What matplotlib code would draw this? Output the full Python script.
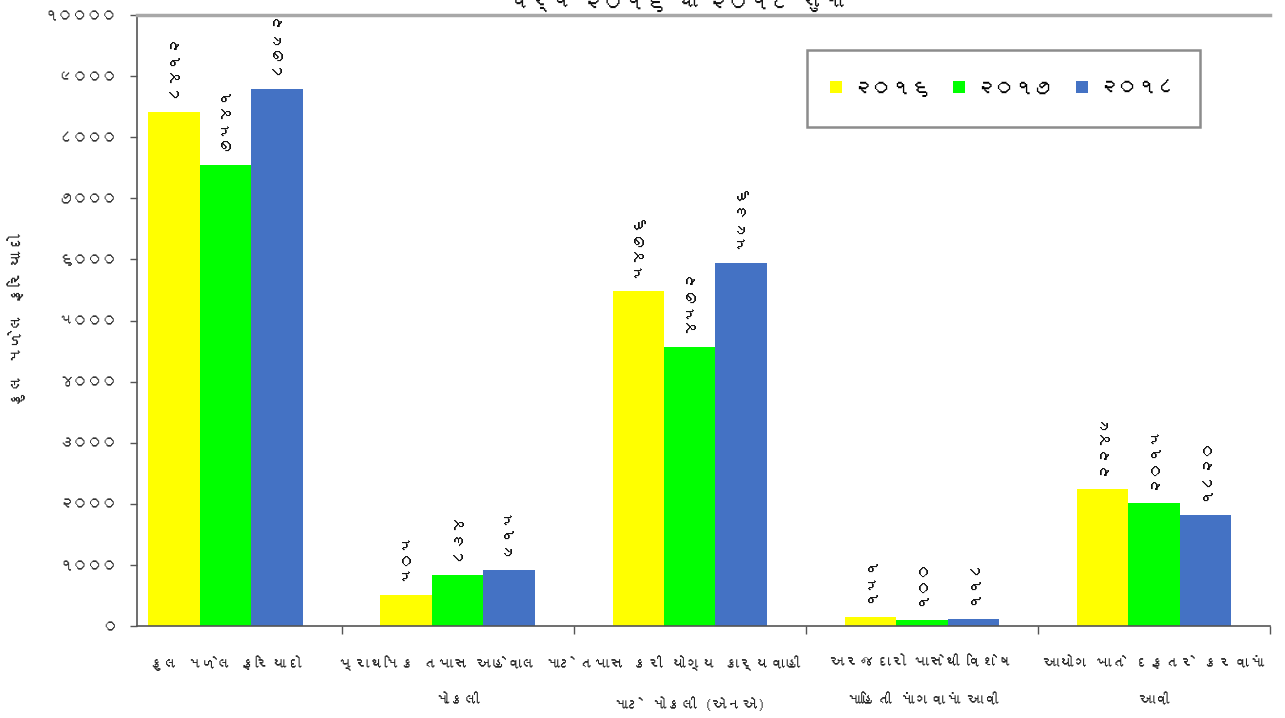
import matplotlib
matplotlib.use("Agg")
import matplotlib.pyplot as plt
from matplotlib import font_manager
from matplotlib.patches import Patch, Rectangle
import numpy as np

# ---- data ---------------------------------------------------------------
categories = [
    "કુલ મળેલ ફરિયાદો",
    "પ્રાથમિક તપાસ અહેવાલ માટે\nમોકલી",
    "તપાસ કરી યોગ્ય કાર્યવાહી\nમાટે મોકલી (એનએ)",
    "અરજદારો પાસેથી વિશેષ\nમાહિતી માંગવામાં આવી",
    "આયોગ ખાતે દફતરે કરવામાં\nઆવી",
]
years = ["૨૦૧૬", "૨૦૧૭", "૨૦૧૮"]
values_2016 = [8412, 505, 5476, 151, 2249]
values_2017 = [7541, 834, 4572, 100, 2015]
values_2018 = [8792, 915, 5936, 118, 1820]
y_ticks = [0, 1000, 2000, 3000, 4000, 5000, 6000, 7000, 8000, 9000, 10000]

title = "વર્ષ ૨૦૧૬ થી ૨૦૧૮ સુધી"
y_label = "કુલ મળેલ ફરિયાદો"

colors = ["#FFFF00", "#00FF00", "#4472C4"]

GUJ_DIGITS = str.maketrans("0123456789", "૦૧૨૩૪૫૬૭૮૯")


def guj(n):
    return str(n).translate(GUJ_DIGITS)


def gujarati_families():
    """Find installed families that can draw Gujarati script."""
    found = []
    try:
        from fontTools.ttLib import TTFont
    except ImportError:
        TTFont = None
    for fe in font_manager.fontManager.ttflist:
        name = fe.name
        if name in found:
            continue
        low = name.lower()
        if "gujarati" in low or "lohit" in low or "shruti" in low:
            found.append(name)
            continue
        if TTFont is None:
            continue
        try:
            f = TTFont(fe.fname, fontNumber=0, lazy=True)
            cmap = f.getBestCmap()
            if cmap and 0x0A95 in cmap:
                found.append(name)
        except Exception:
            pass
    return found


families = gujarati_families() + ["DejaVu Sans"]
plt.rcParams["font.family"] = families

# ---- figure -------------------------------------------------------------
W, H = 1285, 718
fig = plt.figure(figsize=(W / 100, H / 100), dpi=100)
ax_left, ax_right, ax_top, ax_bottom = 137, 1270, 15, 626
ax = fig.add_axes([ax_left / W, 1 - ax_bottom / H,
                   (ax_right - ax_left) / W, (ax_bottom - ax_top) / H])

x = np.arange(len(categories))
width = 0.2215
series = [values_2016, values_2017, values_2018]
for i, (vals, col, yr) in enumerate(zip(series, colors, years)):
    bars = ax.bar(x + (i - 1) * width, vals, width, color=col,
                  edgecolor="none", label=yr, zorder=2)
    ax.bar_label(bars, labels=[guj(v) for v in vals], rotation=90,
                 padding=10, fontsize=11.5, fontweight="bold", color="#111111")

ax.set_xlim(-0.381, 4.492)
ax.set_ylim(0, 10000)

ax.set_yticks(y_ticks)
ax.set_yticklabels([guj(v) for v in y_ticks], fontsize=10.5, color="#333333")
ax.tick_params(axis="y", direction="out", length=5, width=1, color="#555555", pad=9)

ax.set_xticks(x)
ax.set_xticklabels(categories, fontsize=11, fontweight="bold",
                   linespacing=3.1, color="#222222")
ax.tick_params(axis="x", which="major", length=0, pad=21)
ax.set_xticks(np.arange(0.5, 5, 1.0), minor=True)
ax.tick_params(axis="x", which="minor", direction="out", length=6,
               width=1, color="#555555")

for s in ("left", "bottom"):
    ax.spines[s].set_color("#555555")
    ax.spines[s].set_linewidth(1.2)
ax.spines["right"].set_visible(False)
ax.spines["top"].set_color("#A8A8A8")
ax.spines["top"].set_linewidth(2.5)

ax.set_ylabel(y_label, fontsize=12.5, fontweight="bold", labelpad=13, color="#222222")

fig.text(677 / W, 1 - 1 / H, title, ha="center", va="center",
         fontsize=15, fontweight="bold", color="#111111")

# legend box drawn as a fixed frame, entries centred inside it
lx0, ly0, lx1, ly1 = 807, 50, 1200, 127
fig.patches.append(Rectangle((lx0 / W, 1 - ly1 / H), (lx1 - lx0) / W, (ly1 - ly0) / H,
                             transform=fig.transFigure, facecolor="white",
                             edgecolor="#8C8C8C", linewidth=1.8, zorder=5))
handles = [Patch(facecolor=c, edgecolor="none") for c in colors]
leg = fig.legend(handles, years, loc="center", ncol=3, frameon=False,
                 bbox_to_anchor=((lx0 + lx1) / 2 / W, 1 - (ly0 + ly1) / 2 / H),
                 bbox_transform=fig.transFigure, fontsize=14,
                 handlelength=0.62, handleheight=0.62, handletextpad=0.55,
                 columnspacing=1.15, borderpad=0)
leg.set_zorder(6)
for t in leg.get_texts():
    t.set_fontweight("bold")

fig.savefig("out.png", dpi=100, facecolor="white")
